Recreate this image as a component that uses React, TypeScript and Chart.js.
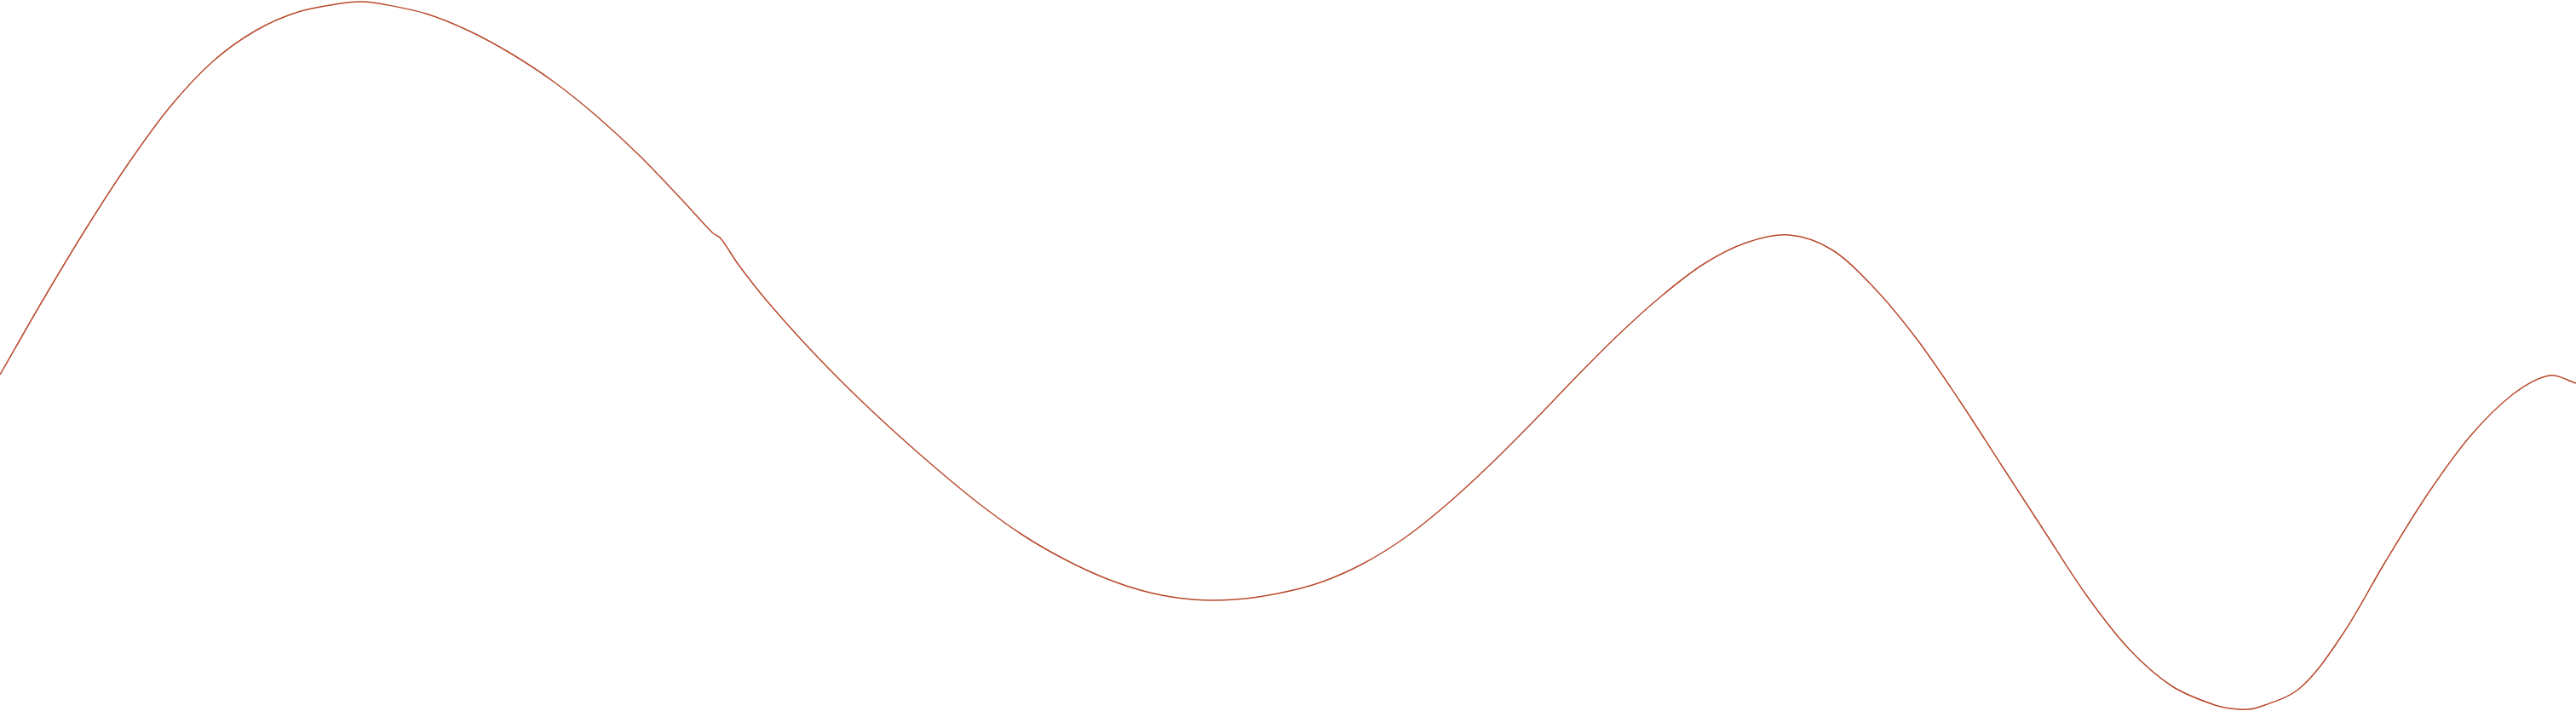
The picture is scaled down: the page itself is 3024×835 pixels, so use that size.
import React, { useEffect, useRef } from "react";
import { Chart, registerables } from "chart.js";

Chart.register(...registerables);

// Positions along the horizontal span (0 .. 3024) of each sampled point of the wave
const positions: number[] = [
  0, 50, 100, 150, 200, 250, 300, 350, 400, 425, 450, 500, 550, 600, 650, 700, 750, 800,
  836, 846, 867, 900, 950, 1000, 1050, 1100, 1150, 1200, 1250, 1300, 1350, 1400, 1450,
  1500, 1550, 1600, 1650, 1700, 1750, 1800, 1850, 1900, 1950, 2000, 2050, 2100, 2150,
  2200, 2250, 2300, 2350, 2400, 2450, 2500, 2550, 2600, 2628, 2650, 2700, 2750, 2800,
  2850, 2900, 2950, 2993, 3024,
];

// Wave height (0 .. 835) at each position
const heights: number[] = [
  395, 482, 565, 642, 710, 763, 799, 821, 831, 833, 830, 819, 799, 772, 739, 699, 653, 601,
  562, 555, 524, 482, 426, 375, 328, 284, 243, 207, 178, 155, 139, 131, 131,
  138, 151, 173, 204, 244, 290, 340, 392, 442, 487, 525, 550, 559, 542,
  497, 437, 365, 288, 211, 135, 72, 29, 7, 2, 4, 27, 90, 175,
  255, 323, 372, 394, 385,
];

const X_MIN = 0;
const X_MAX = 3024;
const Y_MIN = 0;
const Y_MAX = 835;

const LINE_COLOR = "#b84a2c";

export default function App() {
  const canvasRef = useRef<HTMLCanvasElement | null>(null);

  useEffect(() => {
    if (!canvasRef.current) return;
    const points = positions.map((x, i) => ({ x, y: heights[i] }));
    const chart = new Chart(canvasRef.current, {
      type: "line",
      data: {
        datasets: [
          {
            data: points,
            borderColor: LINE_COLOR,
            borderWidth: 1.5,
            pointRadius: 0,
            pointHoverRadius: 0,
            fill: false,
            tension: 0.33,
          },
        ],
      },
      options: {
        animation: false,
        responsive: false,
        devicePixelRatio: 1,
        layout: { padding: 0 },
        plugins: {
          legend: { display: false },
          tooltip: { enabled: false },
          title: { display: false },
        },
        scales: {
          x: { type: "linear", min: X_MIN, max: X_MAX, display: false },
          y: { type: "linear", min: Y_MIN, max: Y_MAX, display: false },
        },
        events: [],
      },
    });
    return () => chart.destroy();
  }, []);

  return (
    <div
      style={{
        position: "fixed",
        left: 0,
        top: 0,
        width: 3024,
        height: 835,
        background: "#ffffff",
        overflow: "hidden",
      }}
    >
      <canvas ref={canvasRef} width={3024} height={835} style={{ display: "block" }} />
    </div>
  );
}
